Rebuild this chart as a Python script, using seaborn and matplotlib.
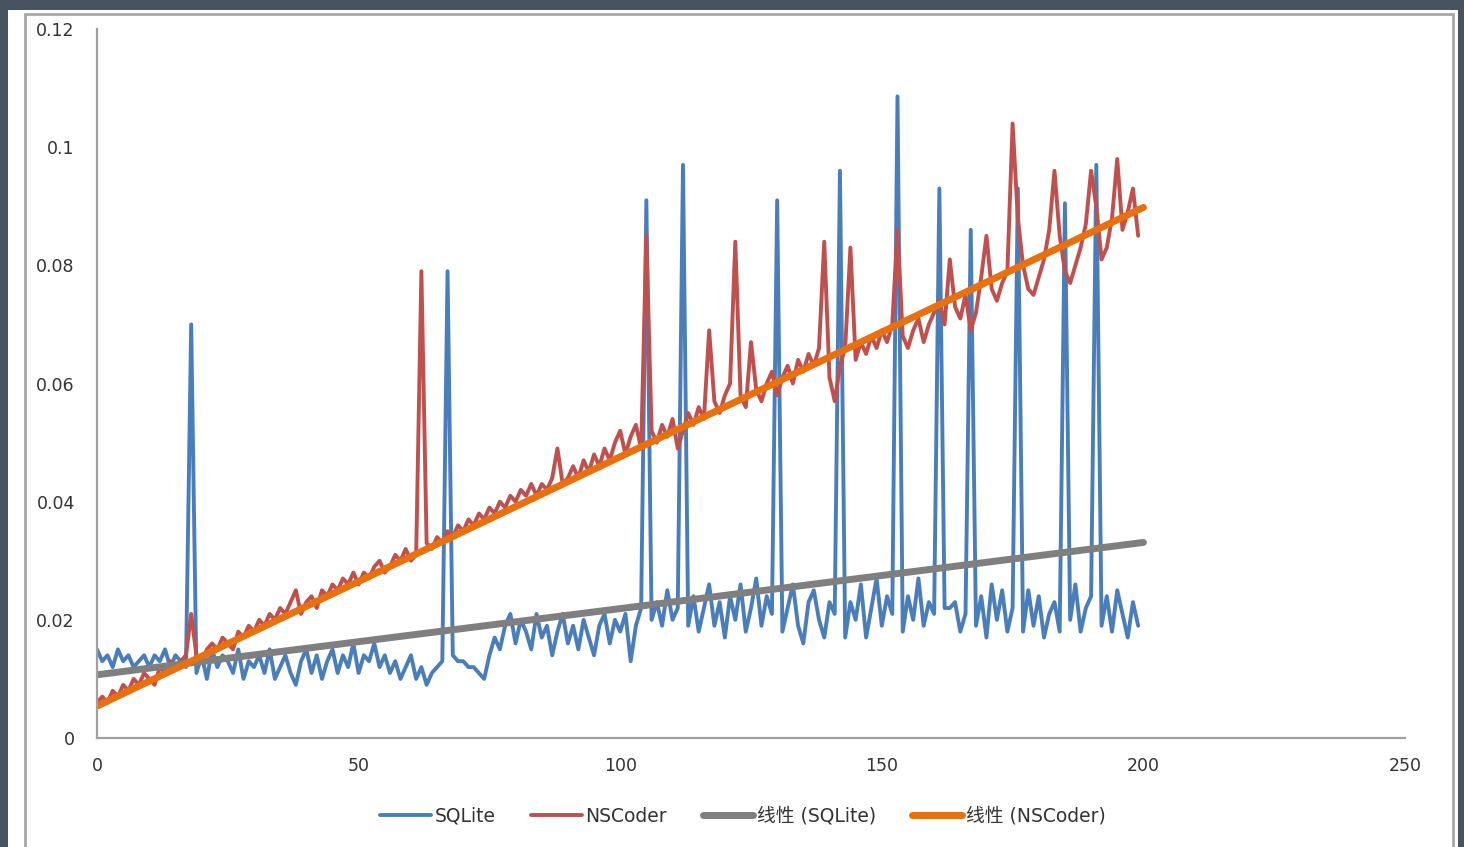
import numpy as np
import matplotlib
matplotlib.use("Agg")
import matplotlib.pyplot as plt
from matplotlib.patches import Rectangle
import seaborn as sns


# values, one per x (0..199)
sqlite = [
    0.015, 0.013, 0.014, 0.012, 0.015, 0.013, 0.014, 0.012, 0.013, 0.014,
    0.012, 0.014, 0.013, 0.015, 0.012, 0.014, 0.013, 0.012, 0.070, 0.011,
    0.014, 0.010, 0.015, 0.012, 0.014, 0.013, 0.011, 0.015, 0.010, 0.013,
    0.012, 0.014, 0.011, 0.015, 0.010, 0.012, 0.014, 0.011, 0.009, 0.013,
    0.015, 0.011, 0.014, 0.010, 0.013, 0.015, 0.011, 0.014, 0.012, 0.016,
    0.011, 0.014, 0.013, 0.016, 0.012, 0.014, 0.011, 0.013, 0.010, 0.012,
    0.014, 0.010, 0.012, 0.009, 0.011, 0.012, 0.013, 0.079, 0.014, 0.013,
    0.013, 0.012, 0.012, 0.011, 0.010, 0.014, 0.017, 0.015, 0.019, 0.021,
    0.016, 0.020, 0.018, 0.015, 0.021, 0.017, 0.019, 0.014, 0.018, 0.021,
    0.016, 0.019, 0.015, 0.020, 0.017, 0.014, 0.019, 0.021, 0.016, 0.020,
    0.018, 0.021, 0.013, 0.019, 0.022, 0.091, 0.020, 0.023, 0.019, 0.025,
    0.020, 0.022, 0.097, 0.019, 0.024, 0.018, 0.022, 0.026, 0.019, 0.023,
    0.017, 0.024, 0.020, 0.026, 0.018, 0.022, 0.027, 0.019, 0.024, 0.021,
    0.091, 0.018, 0.022, 0.026, 0.019, 0.016, 0.023, 0.025, 0.020, 0.017,
    0.023, 0.021, 0.096, 0.017, 0.023, 0.020, 0.026, 0.017, 0.022, 0.027,
    0.019, 0.024, 0.021, 0.1086, 0.018, 0.024, 0.020, 0.027, 0.019, 0.023,
    0.021, 0.093, 0.022, 0.022, 0.023, 0.018, 0.021, 0.086, 0.019, 0.024,
    0.017, 0.026, 0.020, 0.025, 0.018, 0.022, 0.093, 0.018, 0.025, 0.019,
    0.024, 0.017, 0.021, 0.023, 0.018, 0.0905, 0.020, 0.026, 0.018, 0.022,
    0.024, 0.097, 0.019, 0.024, 0.018, 0.025, 0.021, 0.017, 0.023, 0.019,
]
nscoder = [
    0.006, 0.007, 0.006, 0.008, 0.007, 0.009, 0.008, 0.010, 0.009, 0.011,
    0.010, 0.009, 0.012, 0.011, 0.013, 0.012, 0.013, 0.014, 0.021, 0.014,
    0.013, 0.015, 0.016, 0.015, 0.017, 0.016, 0.015, 0.018, 0.017, 0.019,
    0.018, 0.020, 0.019, 0.021, 0.020, 0.022, 0.021, 0.023, 0.025, 0.021,
    0.023, 0.024, 0.022, 0.025, 0.024, 0.026, 0.025, 0.027, 0.026, 0.028,
    0.026, 0.028, 0.027, 0.029, 0.030, 0.028, 0.029, 0.031, 0.030, 0.032,
    0.030, 0.031, 0.079, 0.033, 0.032, 0.034, 0.033, 0.035, 0.034, 0.036,
    0.035, 0.037, 0.036, 0.038, 0.037, 0.039, 0.038, 0.040, 0.039, 0.041,
    0.040, 0.042, 0.041, 0.043, 0.041, 0.043, 0.042, 0.044, 0.049, 0.043,
    0.044, 0.046, 0.044, 0.047, 0.045, 0.048, 0.046, 0.049, 0.047, 0.050,
    0.052, 0.048, 0.051, 0.053, 0.049, 0.085, 0.052, 0.050, 0.053, 0.051,
    0.054, 0.049, 0.052, 0.055, 0.053, 0.056, 0.054, 0.069, 0.057, 0.055,
    0.058, 0.060, 0.084, 0.058, 0.056, 0.067, 0.059, 0.057, 0.060, 0.062,
    0.058, 0.061, 0.063, 0.060, 0.064, 0.062, 0.065, 0.063, 0.066, 0.084,
    0.061, 0.057, 0.063, 0.066, 0.083, 0.064, 0.067, 0.065, 0.068, 0.066,
    0.069, 0.067, 0.070, 0.086, 0.068, 0.066, 0.069, 0.071, 0.067, 0.070,
    0.072, 0.074, 0.070, 0.081, 0.073, 0.071, 0.075, 0.069, 0.072, 0.078,
    0.085, 0.076, 0.074, 0.077, 0.079, 0.104, 0.088, 0.080, 0.076, 0.075,
    0.078, 0.081, 0.086, 0.096, 0.085, 0.079, 0.077, 0.080, 0.083, 0.087,
    0.096, 0.090, 0.081, 0.083, 0.088, 0.098, 0.086, 0.089, 0.093, 0.085,
]
x = list(range(len(sqlite)))

# linear trendlines (end points)
trend_x = [0, 200]
trend_sqlite = [0.0107, 0.0331]
trend_nscoder = [0.0054, 0.0898]

xticks = [0, 50, 100, 150, 200, 250]
yticks = [0, 0.02, 0.04, 0.06, 0.08, 0.1, 0.12]
ytick_labels = ["0", "0.02", "0.04", "0.06", "0.08", "0.1", "0.12"]
labels = ["SQLite", "NSCoder", "线性 (SQLite)", "线性 (NSCoder)"]

sns.set_style("white")
plt.rcParams["font.family"] = ["DejaVu Sans", "Noto Sans CJK SC"]

W, H = 1464, 847
fig = plt.figure(figsize=(W / 100, H / 100), dpi=100, facecolor="#47545f")
fig.add_artist(Rectangle((8 / W, 0), (1458 - 8) / W, (H - 10) / H,
                         transform=fig.transFigure, facecolor="white", edgecolor="none", zorder=0))
fig.add_artist(Rectangle((25 / W, -0.01), (1453 - 25) / W, (H - 14) / H + 0.01,
                         transform=fig.transFigure, fill=False, edgecolor="#a8a8a8", lw=2, zorder=0))

ax = fig.add_axes([97 / W, 109 / H, 1308 / W, 709 / H])
ax.set_facecolor("none")

sns.lineplot(x=x, y=sqlite, color="#4a7ebb", lw=2.8, label=labels[0], ax=ax)
sns.lineplot(x=x, y=nscoder, color="#c0504d", lw=2.8, label=labels[1], ax=ax)
sns.lineplot(x=trend_x, y=trend_sqlite, color="#7f7f7f", lw=5, label=labels[2], ax=ax)
sns.lineplot(x=trend_x, y=trend_nscoder, color="#e8700e", lw=5, label=labels[3], ax=ax)

ax.set_xlim(0, 250)
ax.set_ylim(0, 0.12)
ax.set_xticks(xticks)
ax.set_xticklabels([str(t) for t in xticks])
ax.set_yticks(yticks)
ax.set_yticklabels(ytick_labels)
ax.tick_params(axis="both", length=0, labelsize=12.5, labelcolor="#333333")
ax.tick_params(axis="y", pad=16)
ax.tick_params(axis="x", pad=14)
for side in ["top", "right"]:
    ax.spines[side].set_visible(False)
for side in ["left", "bottom"]:
    ax.spines[side].set_color("#a0a0a0")
    ax.spines[side].set_linewidth(1.6)
ax.set_xlabel("")
ax.set_ylabel("")

handles, labs = ax.get_legend_handles_labels()
ax.get_legend().remove()
fig.legend(handles, labs, loc="center", bbox_to_anchor=(743 / W, 31 / H), ncol=4,
           frameon=False, fontsize=13.5, handlelength=2.7, handletextpad=0.2,
           columnspacing=1.9, labelcolor="#333333")

fig.savefig("out.png", dpi=100, facecolor=fig.get_facecolor())
